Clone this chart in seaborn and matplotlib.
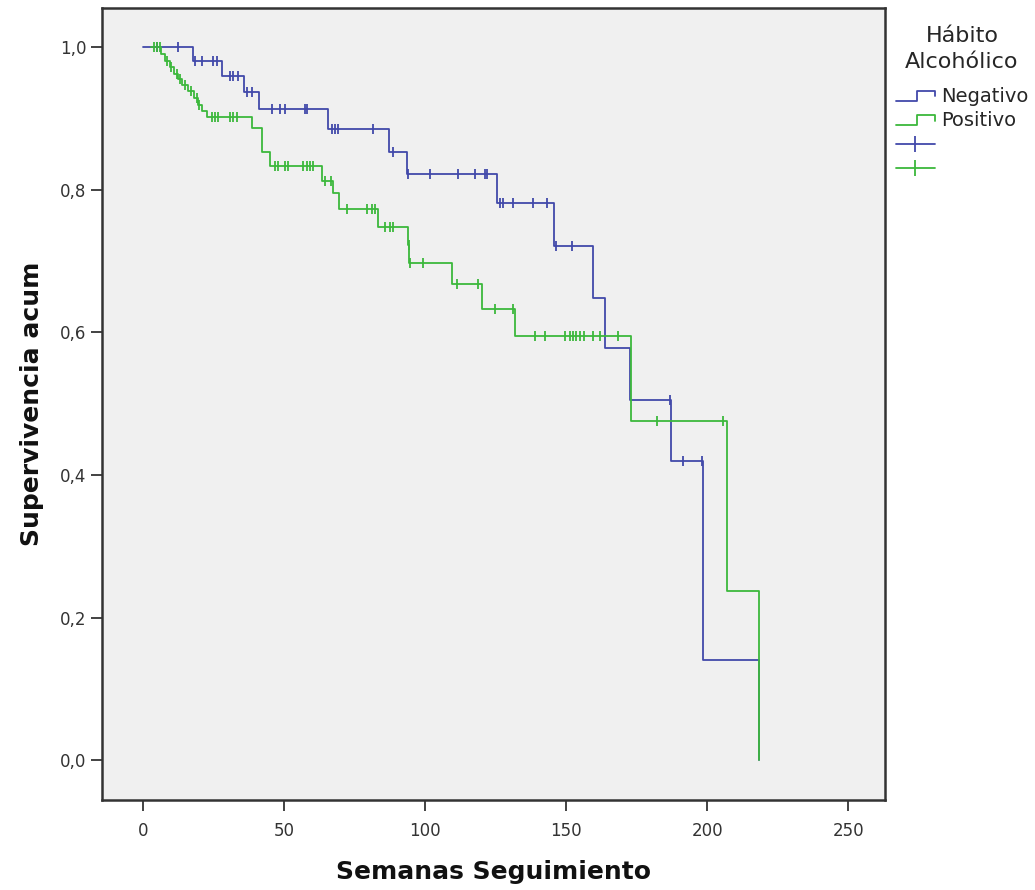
import numpy as np
import pandas as pd
import matplotlib
matplotlib.use("Agg")
import matplotlib.pyplot as plt
from matplotlib.lines import Line2D
from matplotlib.legend_handler import HandlerBase
import seaborn as sns

# ---------------- data ----------------
neg_times = [0, 17.7, 28, 36, 41.1, 65.6, 87.2, 93.6, 125.5, 145.7, 159.6,
             163.8, 172.7, 187.2, 198.6, 198.6, 218.4]
neg_surv = [1.0, 0.980, 0.959, 0.937, 0.913, 0.885, 0.853, 0.822, 0.781, 0.721,
            0.648, 0.578, 0.505, 0.419, 0.280, 0.140, 0.0]
neg_cens = [5, 12.4, 18.4, 21, 24.8, 26.2, 30.9, 32, 33.7, 37, 38.5, 45.7, 48.6,
            50.4, 57.4, 58.2, 67, 68, 69, 81.6, 88.7, 93.8, 101.8, 111.7, 117.7,
            121.3, 122, 126.6, 127.7, 131.2, 138.3, 143.3, 146.5, 152.1, 186.9,
            191.5, 198.2]

pos_times = [3, 6.5, 8, 9.5, 11, 12.5, 14, 16, 18, 19.5, 21, 22.7, 38.5, 42.2,
             45, 63.5, 67.4, 69.5, 83.3, 94, 94.4, 109.6, 120.2, 131.9, 173,
             207, 218.4]
pos_surv = [1.0, 0.990, 0.981, 0.972, 0.963, 0.955, 0.947, 0.938, 0.929, 0.919,
            0.910, 0.902, 0.886, 0.853, 0.834, 0.813, 0.795, 0.773, 0.748, 0.722,
            0.697, 0.668, 0.633, 0.595, 0.475, 0.237, 0.0]
pos_cens = [4, 5, 6, 8.5, 10, 12, 13, 15, 17, 19, 20, 24.5, 25.5, 26.6, 30.9,
            32, 33.3, 46.8, 47.9, 50.4, 51.4, 56.7, 58.2, 59.2, 60.3, 64.5, 66.5,
            72.3, 79.4, 81.2, 82.3, 85.8, 87.6, 88.7, 94.2, 94.8, 99.3, 111.3,
            118.8, 124.8, 131.2, 139, 142.6, 149.6, 151.5, 152.5, 153.5, 155,
            156.5, 159.6, 162, 168.4, 182.3, 205.7]

groups = ["Negativo", "Positivo"]
legend_title = "Hábito\nAlcohólico"
x_label = "Semanas Seguimiento"
y_label = "Supervivencia acum"
x_ticks = [0, 50, 100, 150, 200, 250]
y_ticks = [0.0, 0.2, 0.4, 0.6, 0.8, 1.0]

colors = {"Negativo": "#4249aa", "Positivo": "#3cb83c"}


def surv_at(times, surv, t):
    # value of the step curve at time t (after events at t)
    idx = np.searchsorted(np.asarray(times), t, side="right") - 1
    return np.asarray(surv)[max(idx, 0)]


curves = pd.concat([
    pd.DataFrame({"t": neg_times, "s": neg_surv, "g": "Negativo"}),
    pd.DataFrame({"t": pos_times, "s": pos_surv, "g": "Positivo"}),
], ignore_index=True)

cens = pd.concat([
    pd.DataFrame({"t": neg_cens,
                  "s": [surv_at(neg_times, neg_surv, t) for t in neg_cens],
                  "g": "Negativo"}),
    pd.DataFrame({"t": pos_cens,
                  "s": [surv_at(pos_times, pos_surv, t) for t in pos_cens],
                  "g": "Positivo"}),
], ignore_index=True)

# ---------------- figure ----------------
sns.set_style("white")
plt.rcParams["font.family"] = ["DejaVu Sans"]

fig = plt.figure(figsize=(10.35, 8.9), dpi=100)
ax = fig.add_axes([102 / 1035, 1 - 800 / 890, (885 - 102) / 1035, (800 - 8) / 890])
ax.set_facecolor("#f0f0f0")

for g in groups:
    sub = curves[curves.g == g]
    sns.lineplot(data=sub, x="t", y="s", ax=ax, color=colors[g],
                 drawstyle="steps-post", estimator=None, sort=False,
                 linewidth=1.3, legend=False)
for g in groups:
    sub = cens[cens.g == g]
    sns.scatterplot(data=sub, x="t", y="s", ax=ax, color=colors[g],
                    marker="|", s=60, linewidth=1.3, legend=False)

ax.set_xlim(-14.5, 263)
ax.set_ylim(-0.056, 1.055)
ax.set_xticks(x_ticks)
ax.set_xticklabels([str(v) for v in x_ticks])
ax.set_yticks(y_ticks)
ax.set_yticklabels([f"{v:.1f}".replace(".", ",") for v in y_ticks])
ax.tick_params(axis="both", direction="out", length=8, width=1.2,
               color="#222222", labelsize=12, labelcolor="#333333",
               bottom=True, left=True)
ax.tick_params(axis="x", pad=8)
ax.tick_params(axis="y", pad=3)
for sp in ax.spines.values():
    sp.set_color("#333333")
    sp.set_linewidth(1.8)

lab_font = dict(family=["DejaVu Sans"], fontweight="bold", fontsize=18,
                color="#111111")
ax.set_xlabel(x_label, labelpad=14, **lab_font)
ax.set_ylabel(y_label, labelpad=12, **lab_font)


class StepHandler(HandlerBase):
    def create_artists(self, legend, orig_handle, xdescent, ydescent,
                       width, height, fontsize, trans):
        x0, w, h = -xdescent, width, height
        y0 = -ydescent
        xs = [x0, x0 + 0.55 * w, x0 + 0.55 * w, x0 + w, x0 + w]
        ys = [y0 + 0.1 * h, y0 + 0.1 * h, y0 + 0.8 * h, y0 + 0.8 * h, y0 + 0.4 * h]
        ln = Line2D(xs, ys, color=orig_handle.get_color(), linewidth=1.3,
                    transform=trans)
        return [ln]


step_neg = Line2D([], [], color=colors["Negativo"])
step_pos = Line2D([], [], color=colors["Positivo"])
cross_neg = Line2D([], [], color=colors["Negativo"], marker="|", markersize=12,
                   markeredgewidth=1.3, linewidth=1.3)
cross_pos = Line2D([], [], color=colors["Positivo"], marker="|", markersize=12,
                   markeredgewidth=1.3, linewidth=1.3)

leg = fig.legend([step_neg, step_pos, cross_neg, cross_pos],
                 ["Negativo", "Positivo", "", ""],
                 handler_map={step_neg: StepHandler(), step_pos: StepHandler()},
                 loc="upper left", bbox_to_anchor=(896 / 1035, 1 - 26 / 890),
                 frameon=False, title=legend_title, fontsize=14,
                 title_fontsize=16, handlelength=2.0, handletextpad=0.3,
                 labelspacing=0.28, numpoints=1, borderaxespad=0,
                 borderpad=0)
leg.get_title().set_multialignment("center")
leg.get_title().set_linespacing(1.35)
leg._legend_box.sep = 11

fig.savefig("out.png", dpi=100, facecolor="white")
